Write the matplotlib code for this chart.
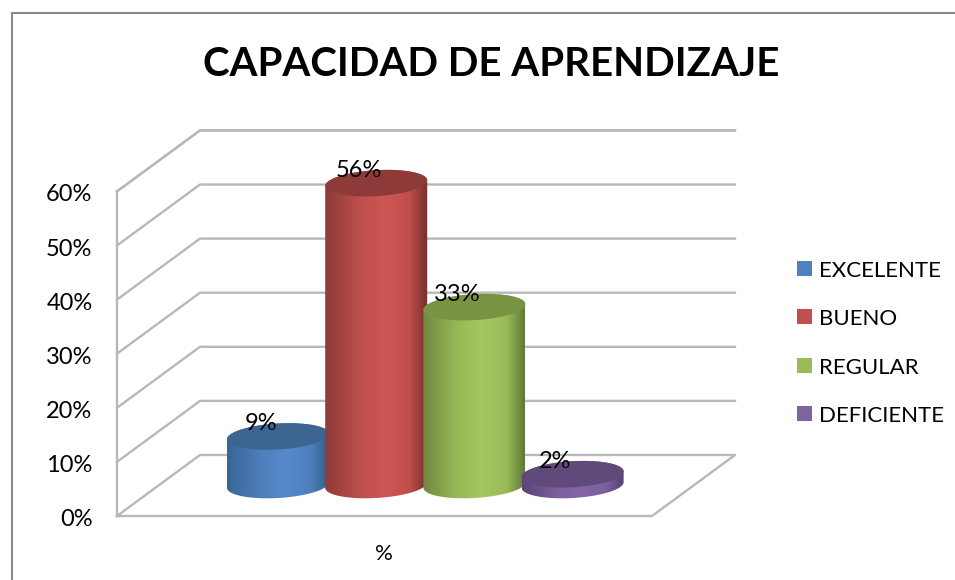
import numpy as np
import matplotlib
matplotlib.use('Agg')
import matplotlib.pyplot as plt
from matplotlib.colors import LinearSegmentedColormap
from matplotlib.patches import Polygon, Rectangle

plt.rcParams['font.family'] = ['Lato', 'DejaVu Sans']

titulo = 'CAPACIDAD DE APRENDIZAJE'
categorias = ['EXCELENTE', 'BUENO', 'REGULAR', 'DEFICIENTE']
valores = [9, 56, 33, 2]
ticks = [0, 10, 20, 30, 40, 50, 60]
eje_x = '%'

lado_izq = ['#3a6596', '#8f3b39', '#70893f', '#5b4478']
lado_medio = ['#4f80bd', '#bf4f4c', '#9aba58', '#7c5f9e']
lado_centro = ['#5589c9', '#cd5653', '#a5c661', '#8566aa']
lado_der = ['#355c88', '#752e2c', '#5f7a37', '#574174']
tapa = ['#3c6591', '#8e3a39', '#7a9343', '#604a7b']
leyenda = ['#4f81bd', '#c0504d', '#9bbb59', '#8064a2']

gris = '#b8b8b8'
# geometria del "3D" en pixeles
x0, y0 = 117, 516      # esquina frontal izquierda
dx, dy = 83, -61       # profundidad
ancho = 535
esc = 5.39             # px por cada 1%
fondo = 485            # centro de la base de los cilindros
radio = 51
alto_el = 13
incl = 0.055

fig = plt.figure(figsize=(9.55, 5.8), dpi=100)
ax = fig.add_axes([0, 0, 1, 1])
ax.set_xlim(0, 955)
ax.set_ylim(580, 0)
ax.axis('off')

# marco del grafico
ax.plot([11.5, 11.5, 955], [580, 12.5, 12.5], color='#8a8a8a', lw=1.5, solid_joinstyle='miter')


def py(v):
    return y0 - v * 5.41


# paredes y rejilla
for t in ticks:
    yy = py(t)
    if t == 0:
        ax.plot([x0, x0 + ancho, x0 + ancho + dx, x0 + dx, x0],
                [yy, yy, yy + dy, yy + dy, yy], color=gris, lw=1.7)
    else:
        ax.plot([x0, x0 + dx, x0 + dx + ancho], [yy, yy + dy, yy + dy], color=gris, lw=1.7)
    ax.text(92.5, yy + 3.5, '%d%%' % t, ha='right', va='center', fontsize=17, color='black')
ax.plot([x0, x0], [py(0), py(ticks[-1])], color=gris, lw=1.7)
yy = py(ticks[-1]) + dy
ax.plot([x0, x0 + dx, x0 + dx + ancho], [py(ticks[-1]), yy, yy], color=gris, lw=1.7)


def arco(cx, cy, t1, t2, n=60):
    t = np.linspace(t1, t2, n)
    xs = cx + radio * np.cos(t)
    ys = cy + alto_el * np.sin(t) - incl * radio * np.cos(t)
    return np.column_stack([xs, ys])


# cilindros
for i, v in enumerate(valores):
    cx = 278 + i * 98.2
    cy_top = fondo - v * esc
    base = arco(cx, fondo, 0, np.pi)
    arriba = arco(cx, cy_top, np.pi, 2 * np.pi)
    cm = LinearSegmentedColormap.from_list('c', [(0, lado_izq[i]), (0.35, lado_medio[i]), (0.58, lado_centro[i]),
                                                 (0.82, lado_medio[i]), (1, lado_der[i])])
    im = ax.imshow(np.linspace(0, 1, 256).reshape(1, -1), cmap=cm, aspect='auto',
                   extent=(cx - radio, cx + radio, fondo + 20, cy_top - 20), zorder=3 + i)
    pp = Polygon(np.vstack([base, arriba]), closed=True, fc='none', ec='none')
    ax.add_patch(pp)
    im.set_clip_path(pp)
    el = np.vstack([arriba, arco(cx, cy_top, 0, np.pi)])
    ax.add_patch(Polygon(el, closed=True, fc=tapa[i], ec='none', zorder=3 + i))

ax.set_xlim(0, 955)
ax.set_ylim(580, 0)

# etiquetas de datos
for i, v in enumerate(valores):
    cx = 278 + i * 98.2
    ax.text(cx - 17, fondo - v * esc - 12.5, '%d%%' % v, ha='center', va='center',
            fontsize=17, color='black', zorder=10)

ax.text(491, 65, titulo, ha='center', va='center', fontsize=29, fontweight='bold', color='black')
ax.text(384, 554, eje_x, ha='center', va='center', fontsize=16, color='black')

# leyenda
for i, c in enumerate(categorias):
    yl = 268.5 + i * 48.3
    ax.add_patch(Rectangle((797, yl - 7.5), 15, 15, fc=leyenda[i], ec='none'))
    ax.text(819, yl + 2.5, c, ha='left', va='center', fontsize=16, color='black')

fig.savefig('out.png', dpi=100)
